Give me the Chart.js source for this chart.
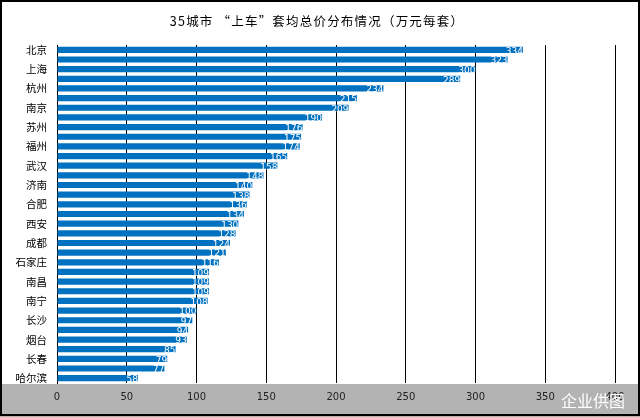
<!DOCTYPE html>
<html>
<head>
<meta charset="utf-8">
<script src="https://cdn.jsdelivr.net/npm/chart.js@4"></script>
<style>
  html, body { margin: 0; padding: 0; background: #fff; }
  #wrap { width: 640px; height: 417px; }
</style>
</head>
<body>
<div id="wrap"><canvas id="my-canvas" width="640" height="417"></canvas></div>
<script>
const TITLE = '35城市 “上车”套均总价分布情况（万元每套）';

// every other city name is not printed in the picture, so those stay blank
const cities = [
  '北京', '', '上海', '', '杭州', '', '南京', '', '苏州', '', '福州', '',
  '武汉', '', '济南', '', '合肥', '', '西安', '', '成都', '', '石家庄', '',
  '南昌', '', '南宁', '', '长沙', '', '烟台', '', '长春', '', '哈尔滨'
];

const prices = [
  334, 323, 300, 289, 234, 215, 209, 190, 176, 175, 174, 165,
  158, 148, 140, 138, 136, 134, 130, 128, 124, 121, 116, 109,
  109, 109, 108, 100, 97, 94, 93, 85, 79, 77, 58
];

const xTicks = [0, 50, 100, 150, 200, 250, 300, 350, 400];

const FONT = '"Noto Sans CJK SC", "DejaVu Sans", sans-serif';

// gray band, title, frame and watermark
const frame = {
  id: 'frame',
  beforeDraw(chart) {
    const { ctx, chartArea } = chart;
    ctx.save();
    ctx.fillStyle = '#b3b3b3';
    ctx.fillRect(0, chartArea.bottom + 1, 640, 417 - chartArea.bottom - 1);
    ctx.fillStyle = '#000';
    ctx.font = '12.5px ' + FONT;
    ctx.textAlign = 'center';
    ctx.textBaseline = 'middle';
    ctx.letterSpacing = '1.2px';
    ctx.fillText(TITLE, 317, 21);
    ctx.restore();
  },
  afterDraw(chart) {
    const { ctx } = chart;
    ctx.save();
    ctx.strokeStyle = '#000';
    ctx.lineWidth = 2;
    ctx.strokeRect(1, 1, 638, 414);
    ctx.fillStyle = '#fff';
    ctx.font = '16px ' + FONT;
    ctx.textAlign = 'right';
    ctx.textBaseline = 'middle';
    ctx.fillText('企业供图', 625, 401);
    ctx.restore();
  },
};

// value at the end of each bar
const barValues = {
  id: 'barValues',
  afterDatasetsDraw(chart) {
    const { ctx } = chart;
    const meta = chart.getDatasetMeta(0);
    ctx.save();
    ctx.fillStyle = '#fff';
    ctx.font = '9px "DejaVu Sans", sans-serif';
    ctx.textAlign = 'right';
    ctx.textBaseline = 'middle';
    meta.data.forEach((bar, i) => {
      ctx.fillText(String(prices[i]), bar.x, bar.y + 1.5);
    });
    ctx.restore();
  },
};

new Chart('my-canvas', {
  type: 'bar',
  data: {
    labels: cities,
    datasets: [
      {
        data: prices,
        backgroundColor: '#0070c0',
        borderWidth: 0,
        barPercentage: 0.64,
        categoryPercentage: 1,
      },
    ],
  },
  options: {
    indexAxis: 'y',
    responsive: false,
    animation: false,
    devicePixelRatio: 1,
    layout: { padding: { left: 2, right: 25, top: 45, bottom: 0 } },
    plugins: {
      legend: { display: false },
      tooltip: { enabled: false },
      title: { display: false },
    },
    scales: {
      x: {
        min: 0,
        max: 400,
        afterBuildTicks(scale) {
          scale.ticks = xTicks.map(v => ({ value: v }));
        },
        afterFit(scale) {
          scale.height = 34;
        },
        grid: {
          color: '#000',
          lineWidth: 1,
          drawTicks: false,
          tickLength: 0,
        },
        border: { display: false },
        ticks: {
          color: '#222',
          padding: 8,
          font: { family: '"DejaVu Sans", sans-serif', size: 10 },
        },
      },
      y: {
        afterFit(scale) {
          scale.width = 55;
        },
        grid: { display: false, drawTicks: false },
        border: { display: true, color: '#000', width: 1 },
        ticks: {
          autoSkip: false,
          color: '#000',
          padding: 10,
          font: { family: FONT, size: 10.5 },
        },
      },
    },
  },
  plugins: [frame, barValues],
});
</script>
</body>
</html>
